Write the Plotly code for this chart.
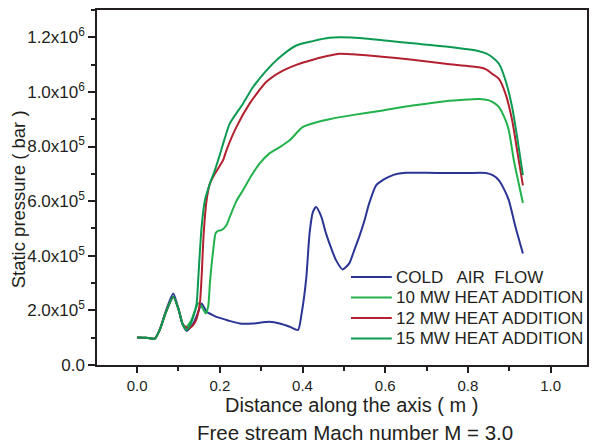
import plotly.graph_objects as go

# ---- data (x in m, pressure in units of 1e3 bar) ----
cold_x = [0, 0.02, 0.043, 0.055, 0.07, 0.0875, 0.1, 0.11, 0.12, 0.136, 0.148, 0.156, 0.168,
          0.18, 0.192, 0.22, 0.248, 0.28, 0.32, 0.345, 0.369, 0.389, 0.398, 0.409, 0.417,
          0.425, 0.433, 0.445, 0.457, 0.47, 0.481, 0.497, 0.513, 0.525, 0.537, 0.55, 0.561,
          0.578, 0.595, 0.61, 0.63, 0.65, 0.7, 0.754, 0.8, 0.843, 0.86, 0.875, 0.887, 0.899,
          0.915, 0.933]
cold_y = [101, 100, 97, 130, 200, 262, 205, 150, 125, 152, 195, 225, 195,
          185, 176, 163, 152, 152, 158, 152, 140, 128, 190, 317, 481,
          560, 579, 545, 481, 425, 384, 350, 372, 420, 469, 530, 591,
          658, 678, 690, 700, 704, 704, 703, 703, 703, 695, 676, 645, 603,
          506, 408]

mw10_x = [0, 0.02, 0.043, 0.055, 0.07, 0.0875, 0.1, 0.11, 0.116, 0.13, 0.148, 0.156, 0.166,
          0.172, 0.176, 0.184, 0.19, 0.197, 0.204, 0.216, 0.224, 0.24, 0.256, 0.275, 0.296,
          0.32, 0.345, 0.369, 0.4, 0.43, 0.465, 0.52, 0.586, 0.666, 0.746, 0.8, 0.827,
          0.851, 0.865, 0.875, 0.89, 0.899, 0.911, 0.923, 0.933]
mw10_y = [101, 100, 97, 130, 195, 250, 205, 150, 135, 160, 226, 215, 189,
          215, 299, 420, 483, 492, 494, 512, 542, 600, 640, 690, 737,
          775, 798, 823, 871, 887, 900, 915, 930, 950, 966, 972, 974,
          969, 958, 944, 900, 859, 750, 664, 593]

mw12_x = [0, 0.02, 0.043, 0.055, 0.07, 0.0875, 0.1, 0.11, 0.124, 0.135, 0.144, 0.152, 0.156,
          0.161, 0.168, 0.176, 0.188, 0.2, 0.208, 0.216, 0.24, 0.272, 0.312, 0.345, 0.385,
          0.425, 0.465, 0.489, 0.52, 0.586, 0.666, 0.746, 0.827, 0.845, 0.859, 0.875,
          0.891, 0.907, 0.919, 0.933]
mw12_y = [101, 100, 97, 130, 195, 250, 205, 150, 134, 145, 170, 230, 323,
          481, 603, 664, 700, 730, 750, 786, 871, 957, 1036, 1072, 1099,
          1118, 1133, 1140, 1138, 1130, 1118, 1103, 1090, 1082, 1066, 1048,
          993, 896, 786, 658]

mw15_x = [0, 0.02, 0.043, 0.055, 0.07, 0.0875, 0.1, 0.11, 0.12, 0.128, 0.136, 0.144, 0.148,
          0.152, 0.156, 0.164, 0.176, 0.188, 0.2, 0.212, 0.224, 0.256, 0.28, 0.313, 0.345,
          0.385, 0.425, 0.465, 0.489, 0.545, 0.6, 0.666, 0.746, 0.827, 0.845, 0.859, 0.875,
          0.891, 0.907, 0.919, 0.933]
mw15_y = [101, 100, 97, 130, 195, 250, 205, 150, 128, 145, 177, 226, 320,
          420, 506, 603, 664, 713, 770, 830, 884, 957, 1017, 1079, 1127,
          1170, 1186, 1198, 1200, 1197, 1188, 1178, 1166, 1149, 1140, 1127, 1103,
          1042, 944, 835, 695]

series_names = ["COLD\u00a0\u00a0 AIR\u00a0 FLOW", "10 MW HEAT ADDITION",
                "12 MW HEAT ADDITION", "15 MW HEAT ADDITION"]
series_colors = ["#2b3594", "#22b24c", "#b3202f", "#0c9a52"]

y_tickvals = [0, 2e5, 4e5, 6e5, 8e5, 1.0e6, 1.2e6]
y_ticktext = ["0.0", "2.0x10<sup>5</sup>", "4.0x10<sup>5</sup>", "6.0x10<sup>5</sup>",
              "8.0x10<sup>5</sup>", "1.0x10<sup>6</sup>", "1.2x10<sup>6</sup>"]
x_tickvals = [0.0, 0.2, 0.4, 0.6, 0.8, 1.0]
x_ticktext = ["0.0", "0.2", "0.4", "0.6", "0.8", "1.0"]

FONT = "Liberation Sans, Arial, sans-serif"
INK = "#231f20"

# plot-area geometry in pixels (layout only)
L, R, T, B = 97, 589, 10, 365
PW, PH = R - L, B - T


def px_x(p):
    return (p - L) / PW


def px_y(p):
    return (B - p) / PH


fig = go.Figure()
for xs, ys, name, col in zip([cold_x, mw10_x, mw12_x, mw15_x],
                             [cold_y, mw10_y, mw12_y, mw15_y],
                             series_names, series_colors):
    fig.add_trace(go.Scatter(x=xs, y=[v * 1e3 for v in ys], mode="lines", name=name,
                             showlegend=False,
                             line=dict(color=col, width=2, shape="spline", smoothing=0.6)))

axis_common = dict(showline=True, linecolor=INK, linewidth=1.5, mirror=True,
                   ticks="outside", tickcolor=INK, tickwidth=1.5, showgrid=False,
                   zeroline=False)

fig.update_xaxes(range=[-0.097, 1.088], tickvals=x_tickvals, ticktext=x_ticktext,
                 ticklen=6, tickfont=dict(family=FONT, size=15, color=INK),
                 minor=dict(ticks="outside", dtick=0.1, tick0=0, ticklen=4,
                            tickcolor=INK, tickwidth=1.5),
                 **axis_common)
fig.update_yaxes(range=[0, 1.3e6], tickvals=y_tickvals, ticktext=y_ticktext,
                 ticklen=7, tickfont=dict(family=FONT, size=17, color=INK),
                 minor=dict(ticks="outside", dtick=1e5, tick0=0, ticklen=4,
                            tickcolor=INK, tickwidth=1.5),
                 **axis_common)

# legend drawn as line samples + labels (compact spacing like the original)
legend_rows = [277, 297.5, 318, 338.5]
shapes = []
annotations = []
for name, col, yc in zip(series_names, series_colors, legend_rows):
    shapes.append(dict(type="line", xref="paper", yref="paper",
                       x0=px_x(352), x1=px_x(393), y0=px_y(yc), y1=px_y(yc),
                       line=dict(color=col, width=2)))
    annotations.append(dict(text=name, xref="paper", yref="paper",
                            x=px_x(395), y=px_y(yc), xanchor="left", yanchor="middle",
                            showarrow=False, font=dict(family=FONT, size=17, color=INK)))

annotations += [
    dict(text="Distance along the axis ( m )", xref="paper", yref="paper",
         x=px_x(353), y=px_y(405), xanchor="center", yanchor="middle",
         showarrow=False, font=dict(family=FONT, size=20, color=INK)),
    dict(text="Free stream Mach number M = 3.0", xref="paper", yref="paper",
         x=px_x(356), y=px_y(432), xanchor="center", yanchor="middle",
         showarrow=False, font=dict(family=FONT, size=20.5, color=INK)),
    dict(text="Static pressure ( bar )", xref="paper", yref="paper",
         x=px_x(19), y=px_y(199), xanchor="center", yanchor="middle",
         textangle=-90, showarrow=False, font=dict(family=FONT, size=18.5, color=INK)),
]

fig.update_layout(
    width=593, height=443, autosize=False,
    margin=dict(l=L, r=593 - R, t=T, b=443 - B),
    plot_bgcolor="white", paper_bgcolor="white",
    font=dict(family=FONT, color=INK),
    showlegend=False,
    shapes=shapes,
    annotations=annotations,
)

fig.write_html("out.html")
